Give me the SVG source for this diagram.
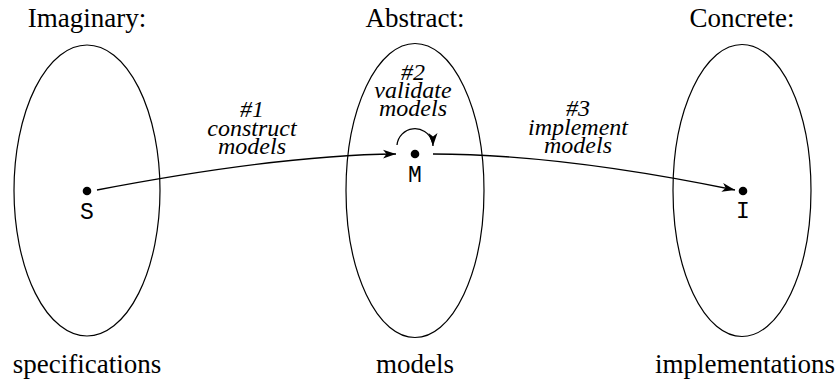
<svg xmlns="http://www.w3.org/2000/svg" width="837" height="381" viewBox="0 0 837 381">
<defs>
<style>
.title{font-family:"Liberation Serif","Times New Roman",serif;font-size:27px;fill:#000;text-anchor:middle}
.lbl{font-family:"Liberation Serif","Times New Roman",serif;font-style:italic;font-size:24px;fill:#000;text-anchor:middle}
.mono{font-family:"Liberation Mono","Courier New",monospace;font-size:23px;fill:#000;text-anchor:middle}
.set{fill:none;stroke:#000;stroke-width:1.2}
.edge{fill:none;stroke:#000;stroke-width:1.3}
</style>
<marker id="arr" markerWidth="14" markerHeight="10" refX="13" refY="5" orient="auto" markerUnits="userSpaceOnUse">
<path d="M0,0.5 L13,5 L0,9.5 L3.5,5 Z" fill="#000"/>
</marker>
</defs>
<rect width="837" height="381" fill="#fff"/>
<g id="imaginary">
<text class="title" x="87" y="27">Imaginary:</text>
<ellipse class="set" cx="87" cy="190.5" rx="73" ry="145.5"/>
<text class="title" x="87" y="373">specifications</text>
<circle cx="87" cy="191" r="4.3"/>
<text class="mono" x="87" y="219">S</text>
</g>
<g id="abstract">
<text class="title" x="415" y="27">Abstract:</text>
<ellipse class="set" cx="415" cy="190.5" rx="69" ry="147"/>
<text class="title" x="415" y="373">models</text>
<circle cx="415" cy="154" r="4.3"/>
<text class="mono" x="415" y="182">M</text>
</g>
<g id="concrete">
<text class="title" x="742" y="27">Concrete:</text>
<ellipse class="set" cx="742" cy="190.5" rx="69" ry="146"/>
<text class="title" x="745" y="373">implementations</text>
<circle cx="743" cy="191" r="4.3"/>
<text class="mono" x="743" y="218">I</text>
</g>
<g id="connectors">
<path class="edge" d="M397,145 A18,18 0 0 1 432,141 Q433,143 433,146" marker-end="url(#arr)"/>
<path class="edge" d="M97,190 Q280,155 396,154" marker-end="url(#arr)"/>
<path class="edge" d="M433,154 Q560,154 735,190" marker-end="url(#arr)"/>
</g>
<g id="labels">
<text class="lbl" x="252" y="117">#1</text>
<text class="lbl" x="252" y="136">construct</text>
<text class="lbl" x="252" y="154">models</text>
<text class="lbl" x="413" y="80">#2</text>
<text class="lbl" x="413" y="98">validate</text>
<text class="lbl" x="413" y="116">models</text>
<text class="lbl" x="578" y="116">#3</text>
<text class="lbl" x="578" y="135">implement</text>
<text class="lbl" x="578" y="153">models</text>
</g>
</svg>
